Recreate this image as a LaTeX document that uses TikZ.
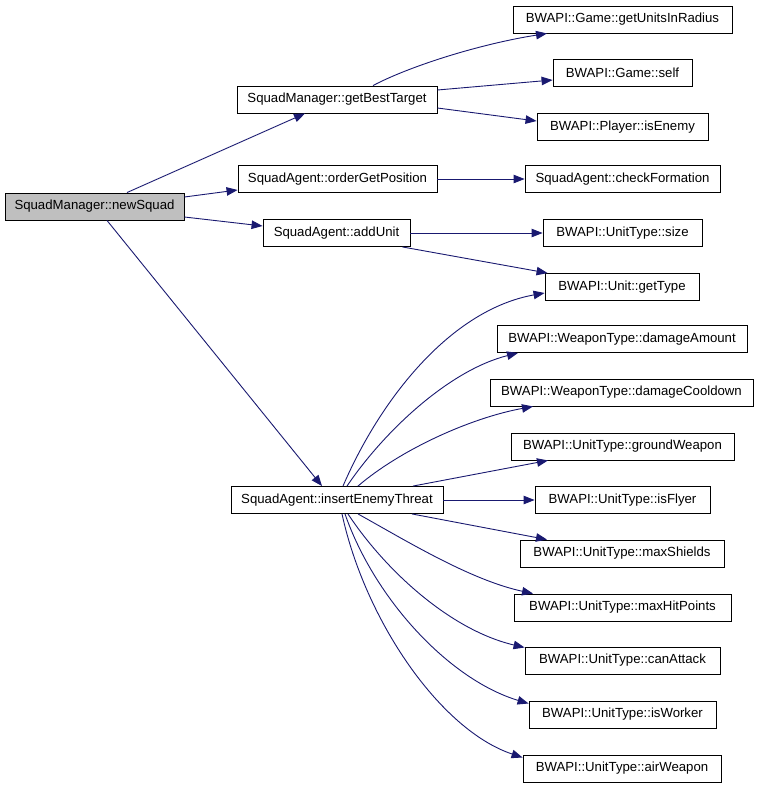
\documentclass[tikz,border=0pt]{standalone}
\usepackage{fontspec}
\setmainfont{Liberation Sans}
\usetikzlibrary{arrows.meta}
\definecolor{edgeblue}{HTML}{191970}
\definecolor{rootgray}{HTML}{BFBFBF}
\begin{document}
\begin{tikzpicture}[x=1pt,y=-1pt,
  box/.style={draw=black,line width=0.9pt,fill=white,minimum height=27pt,inner sep=0pt,
    font=\fontsize{13.2}{15}\selectfont},
  root/.style={box,fill=rootgray},
  call/.style={draw=edgeblue,line width=0.9pt,-{Triangle[length=11pt,width=8.5pt]},fill=none}]
\useasboundingbox (0,0) rectangle (760,787);
% left / middle column
\node[root,minimum width=179pt] (ns)  at (94.5,206.5) {SquadManager::newSquad};
\node[box,minimum width=200pt]  (gbt) at (337,99.5)   {SquadManager::getBestTarget};
\node[box,minimum width=199pt]  (ogp) at (337.5,179)  {SquadAgent::orderGetPosition};
\node[box,minimum width=147pt]  (add) at (336.5,233)  {SquadAgent::addUnit};
\node[box,minimum width=212pt]  (iet) at (337,500)    {SquadAgent::insertEnemyThreat};
% right column
\node[box,minimum width=219pt] (gur)  at (622.5,19.5)  {BWAPI::Game::getUnitsInRadius};
\node[box,minimum width=139pt] (self) at (622.5,73)    {BWAPI::Game::self};
\node[box,minimum width=171pt] (isen) at (622.5,127)   {BWAPI::Player::isEnemy};
\node[box,minimum width=195pt] (chk)  at (622.5,179)   {SquadAgent::checkFormation};
\node[box,minimum width=159pt] (size) at (622.5,233)   {BWAPI::UnitType::size};
\node[box,minimum width=154pt] (gt)   at (622,287)     {BWAPI::Unit::getType};
\node[box,minimum width=250pt] (da)   at (622,339)     {BWAPI::WeaponType::damageAmount};
\node[box,minimum width=263pt] (dc)   at (621.5,392.5) {BWAPI::WeaponType::damageCooldown};
\node[box,minimum width=223pt] (gw)   at (622.5,446.5) {BWAPI::UnitType::groundWeapon};
\node[box,minimum width=175pt] (ifl)  at (622.5,500)   {BWAPI::UnitType::isFlyer};
\node[box,minimum width=204pt] (ms)   at (622,553.5)   {BWAPI::UnitType::maxShields};
\node[box,minimum width=217pt] (mh)   at (622.5,607.5) {BWAPI::UnitType::maxHitPoints};
\node[box,minimum width=195pt] (ca)   at (622.5,660.5) {BWAPI::UnitType::canAttack};
\node[box,minimum width=187pt] (iw)   at (622.5,714.5) {BWAPI::UnitType::isWorker};
\node[box,minimum width=198pt] (aw)   at (622,768.5)   {BWAPI::UnitType::airWeapon};
% edges from newSquad
\draw[call] ([xshift=32.5pt]ns.north) -- ([xshift=-32pt]gbt.south);
\draw[call] ([yshift=9.5pt]ns.east) -- ([yshift=-11pt]ogp.west);
\draw[call] ([yshift=-10.5pt]ns.east) -- ([yshift=7pt]add.west);
\draw[call] ([xshift=12.5pt]ns.south) -- ([xshift=-15pt]iet.north);
% edges from getBestTarget
\draw[call] ([xshift=36pt]gbt.north) .. controls (410,66) and (480,44) .. ([xshift=-75.5pt]gur.south);
\draw[call] ([yshift=9.5pt]gbt.east) -- ([yshift=-7pt]self.west);
\draw[call] ([yshift=-8.5pt]gbt.east) -- ([yshift=6pt]isen.west);
% orderGetPosition, addUnit
\draw[call] (ogp.east) -- (chk.west);
\draw[call] (add.east) -- (size.west);
\draw[call] ([xshift=-8pt]add.south east) -- ([xshift=3pt]gt.north west);
% edges from insertEnemyThreat
\draw[call] ([xshift=6pt]iet.north) .. controls (380,400) and (450,310) .. ([yshift=-6pt]gt.west);
\draw[call] ([xshift=10pt]iet.north) .. controls (385,430) and (450,370) .. ([xshift=-104pt]da.south);
\draw[call] ([xshift=21pt]iet.north) .. controls (400,450) and (470,418) .. ([xshift=-88.5pt]dc.south);
\draw[call] ([xshift=76pt]iet.north) -- ([xshift=-74.5pt]gw.south);
\draw[call] (iet.east) -- (ifl.west);
\draw[call] ([xshift=75pt]iet.south) -- ([xshift=-75pt]ms.north);
\draw[call] ([xshift=21pt]iet.south) .. controls (405,540) and (470,580) .. ([xshift=-89.5pt]mh.north);
\draw[call] ([xshift=11pt]iet.south) .. controls (385,570) and (450,630) .. ([yshift=13pt]ca.west);
\draw[call] ([xshift=8pt]iet.south) .. controls (375,600) and (450,680) .. ([yshift=11pt]iw.west);
\draw[call] ([xshift=5pt]iet.south) .. controls (365,620) and (440,730) .. ([yshift=11pt]aw.west);
\end{tikzpicture}
\end{document}
